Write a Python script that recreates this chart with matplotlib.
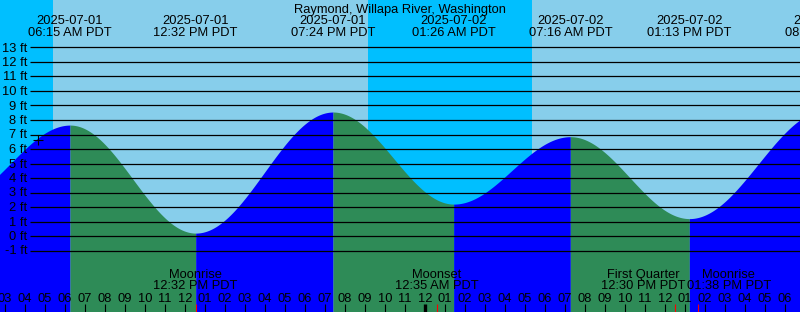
import matplotlib.pyplot as plt
import numpy as np
import pandas as pd

plt.rcParams['font.family'] = ['Liberation Sans', 'DejaVu Sans']

station = "Raymond, Willapa River, Washington"

# high / low tides (ft), first and last lie outside the window
tide_times = ["2025-07-01 00:20", "2025-07-01 06:15", "2025-07-01 12:32",
              "2025-07-01 19:24", "2025-07-02 01:26", "2025-07-02 07:16",
              "2025-07-02 13:13", "2025-07-02 20:06"]
tide_levels = [2.4, 7.65, 0.2, 8.55, 2.2, 6.85, 1.2, 8.7]

# sunrise, sunset, sunrise
sun_times = ["2025-07-01 05:24", "2025-07-01 21:09", "2025-07-02 05:21"]

moon_times = ["2025-07-01 12:32", "2025-07-02 00:35",
              "2025-07-02 12:30", "2025-07-02 13:38"]
moon_events = ["Moonrise", "Moonset", "First Quarter", "Moonrise"]
moon_label_shift = [0, 0, -1.6, 1.55]  # hours, keeps labels apart

now_time = ["2025-07-01 04:38"]
now_level = 6.65

ft_levels = np.arange(-1, 14)

start = pd.Timestamp("2025-07-01 00:00")


def hours(stamps):
    return ((pd.to_datetime(stamps) - start) / pd.Timedelta(hours=1)).to_numpy()


# pixel helpers for the 800x312 layout
def xpx(p):
    return 2.75 + p / 20


def ypx(p):
    return (236 - p) / 14.5


fig = plt.figure(figsize=(8, 3.12), dpi=100, facecolor='#00BFFF')
ax = fig.add_axes([0, 0, 1, 1])
ax.set_xlim(xpx(0), xpx(800))
ax.set_ylim(ypx(312), ypx(0))
ax.set_axis_off()

sun_h = hours(sun_times)
ax.axvspan(sun_h[0], sun_h[1], color='#87CEEB', lw=0)
ax.axvspan(sun_h[2], xpx(800), color='#87CEEB', lw=0)

t = hours(tide_times)
lv = np.array(tide_levels)
for i in range(len(t) - 1):
    ts = np.linspace(t[i], t[i + 1], 200)
    frac = (ts - t[i]) / (t[i + 1] - t[i])
    curve = lv[i] + (lv[i + 1] - lv[i]) * (1 - np.cos(np.pi * frac)) / 2
    color = '#0000FF' if lv[i + 1] > lv[i] else '#2E8B57'
    ax.fill_between(ts, ypx(320), curve, color=color, lw=0)

ax.hlines(ft_levels, xpx(30), xpx(800), color='k', lw=0.9)
for lvl in ft_levels:
    ax.text(xpx(27.5), lvl - 4 / 14.5, f"{lvl} ft", ha='right', va='baseline',
            fontsize=9.3)

ax.plot(hours(now_time), [now_level], marker='+', ms=7, mew=0.8, color='k')

# tide labels along the top (the one before the window is not shown)
for ti, stamp in zip(t, pd.to_datetime(tide_times)):
    if ti < xpx(0):
        continue
    ax.text(ti, ypx(24), stamp.strftime("%Y-%m-%d"), ha='center',
            va='baseline', fontsize=9.3)
    ax.text(ti, ypx(36), stamp.strftime("%I:%M %p PDT"), ha='center',
            va='baseline', fontsize=9.3)

fig.text(0.5, 1 - 13 / 312, station, ha='center', va='baseline', fontsize=9.3)

# hour ticks
hrs = np.arange(3, 43)
widths = np.where(hrs % 24 == 0, 2.4, 0.8)
ax.vlines(hrs, ypx(312), ypx(304), color='k', lw=widths)
for h in hrs:
    lab = h % 12 if h % 12 else 12
    ax.text(h, ypx(301.7), f"{lab:02d}", ha='center', va='baseline',
            fontsize=9.3)

# moon events
moon_h = hours(moon_times)
ax.vlines(moon_h, ypx(312), ypx(304), color='#FF0000', lw=0.8)
for mh, name, stamp, sh in zip(moon_h, moon_events,
                               pd.to_datetime(moon_times), moon_label_shift):
    ax.text(mh + sh, ypx(278), name, ha='center', va='baseline', fontsize=9.3)
    ax.text(mh + sh, ypx(289), stamp.strftime("%I:%M %p PDT"), ha='center',
            va='baseline', fontsize=9.3)

fig.savefig("out.png", dpi=100, facecolor=fig.get_facecolor())
